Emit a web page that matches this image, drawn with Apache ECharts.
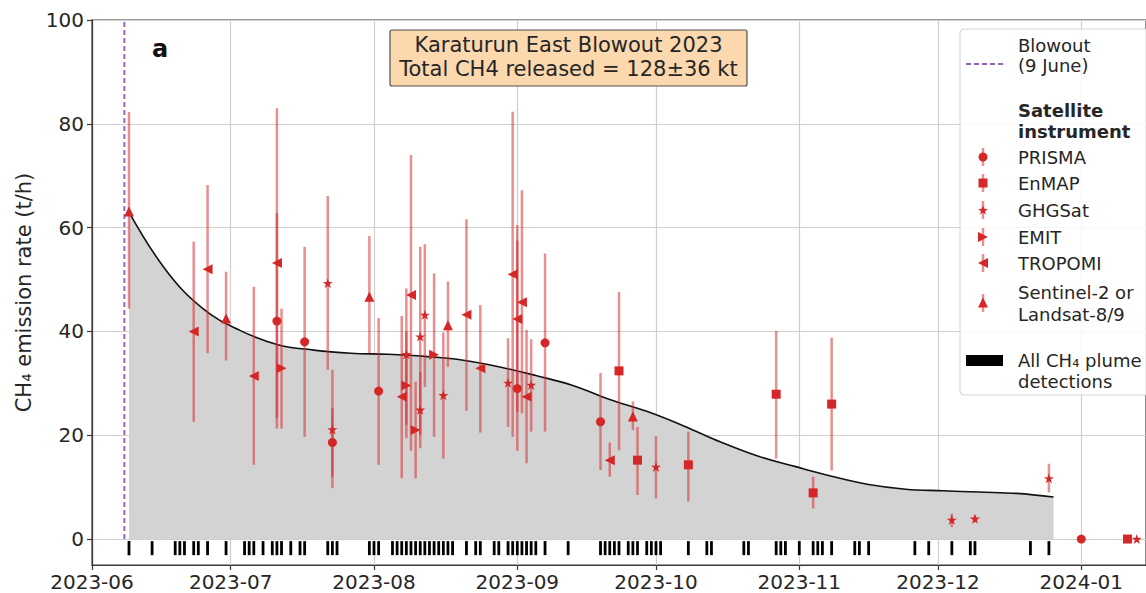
<!DOCTYPE html>
<html>
<head>
<meta charset="utf-8">
<title>Karaturun East Blowout 2023</title>
<script src="https://cdn.jsdelivr.net/npm/echarts@6/dist/echarts.min.js"></script>
<style>
  html, body { margin: 0; padding: 0; background: #ffffff; }
  #chart { width: 1146px; height: 593px; }
</style>
</head>
<body>
<div id="chart"></div>
<script>
// ---- Axis ticks ----
const monthTicks = ['2023-06-01', '2023-07-01', '2023-08-01', '2023-09-01', '2023-10-01', '2023-11-01', '2023-12-01', '2024-01-01'];
const yTicks = [0, 20, 40, 60, 80, 100];
const xRange = ['2023-06-01', '2024-01-15'];

// ---- Blowout date ----
const blowoutDate = '2023-06-08';

// ---- Smoothed emission-rate estimate (t/h) ----
const curveDates = ['2023-06-09', '2023-06-17', '2023-06-25', '2023-07-03', '2023-07-11', '2023-07-19', '2023-07-27',
  '2023-08-04', '2023-08-12', '2023-08-20', '2023-08-28', '2023-09-05', '2023-09-13', '2023-09-21', '2023-09-29',
  '2023-10-07', '2023-10-15', '2023-10-23', '2023-10-31', '2023-11-08', '2023-11-16', '2023-11-24', '2023-12-02',
  '2023-12-10', '2023-12-18', '2023-12-26'];
const curveValues = [63.0, 51.8, 44.4, 40.2, 37.5, 36.4, 35.8,
  35.6, 35.2, 34.5, 33.2, 31.5, 29.6, 26.9, 24.6,
  21.8, 18.7, 16.0, 14.0, 12.1, 10.5, 9.6, 9.3,
  9.05, 8.8, 8.1];

// ---- Individual satellite quantifications (t/h) ----
const obsDates = ['2023-06-09', '2023-06-23', '2023-06-26', '2023-06-30', '2023-07-06', '2023-07-11', '2023-07-11',
  '2023-07-12', '2023-07-17', '2023-07-22', '2023-07-23', '2023-07-23', '2023-07-31', '2023-08-02', '2023-08-07',
  '2023-08-08', '2023-08-08', '2023-08-09', '2023-08-10', '2023-08-11', '2023-08-11', '2023-08-12', '2023-08-14',
  '2023-08-16', '2023-08-17', '2023-08-21', '2023-08-24', '2023-08-30', '2023-08-31', '2023-09-01', '2023-09-01',
  '2023-09-02', '2023-09-03', '2023-09-04', '2023-09-07', '2023-09-19', '2023-09-21', '2023-09-23', '2023-09-26',
  '2023-09-27', '2023-10-01', '2023-10-08', '2023-10-27', '2023-11-04', '2023-11-08', '2023-12-04', '2023-12-09',
  '2023-12-25', '2024-01-01', '2024-01-11', '2024-01-13'];
const obsValues = [63.1, 40.0, 52.0, 42.5, 31.4, 53.2, 42.0,
  32.9, 38.0, 49.3, 21.1, 18.6, 46.7, 28.5, 27.4,
  35.6, 29.6, 47.0, 21.0, 39.0, 24.9, 43.2, 35.5,
  27.7, 41.2, 43.2, 32.9, 30.1, 51.0, 29.0, 42.4,
  45.6, 27.4, 29.7, 37.8, 22.6, 15.2, 32.4, 23.6,
  15.2, 13.9, 14.3, 27.9, 8.9, 26.0, 3.7, 3.9,
  11.7, 0, 0, 0];
const obsLow = [44.4, 22.6, 35.8, 34.4, 14.3, 23.3, 21.3,
  21.3, 19.7, 32.6, 12.0, 9.8, 35.8, 14.3, 11.7,
  22.0, 19.4, 17.0, 11.7, 20.0, 17.5, 29.3, 19.7,
  15.5, 33.2, 24.7, 20.5, 21.6, 19.7, 17.0, 24.5,
  24.2, 14.6, 20.7, 20.7, 13.3, 12.0, 17.1, 21.0,
  8.5, 7.8, 7.2, 15.5, 5.9, 13.2, 2.3, 3.2,
  9.0, 0, 0, 0];
const obsHigh = [82.3, 57.3, 68.2, 51.5, 48.6, 83.0, 62.8,
  44.4, 56.3, 66.1, 32.6, 25.2, 58.4, 42.6, 43.0,
  48.3, 40.0, 74.0, 30.3, 56.3, 32.2, 56.8, 51.2,
  39.8, 49.6, 61.6, 45.1, 38.7, 82.3, 60.5, 57.5,
  67.2, 40.3, 38.5, 55.0, 32.0, 18.6, 47.6, 26.5,
  21.6, 19.8, 20.7, 40.1, 12.0, 38.8, 4.9, 4.6,
  14.5, 0, 0, 0];
const obsInstrument = ['S2L', 'TROPOMI', 'TROPOMI', 'S2L', 'TROPOMI', 'TROPOMI', 'PRISMA',
  'EMIT', 'PRISMA', 'GHGSat', 'GHGSat', 'PRISMA', 'S2L', 'PRISMA', 'TROPOMI',
  'GHGSat', 'EMIT', 'TROPOMI', 'EMIT', 'GHGSat', 'GHGSat', 'GHGSat', 'EMIT',
  'GHGSat', 'S2L', 'TROPOMI', 'TROPOMI', 'GHGSat', 'TROPOMI', 'PRISMA', 'TROPOMI',
  'TROPOMI', 'TROPOMI', 'GHGSat', 'PRISMA', 'PRISMA', 'TROPOMI', 'EnMAP', 'S2L',
  'EnMAP', 'GHGSat', 'EnMAP', 'EnMAP', 'EnMAP', 'EnMAP', 'GHGSat', 'GHGSat',
  'GHGSat', 'PRISMA', 'EnMAP', 'GHGSat'];

// ---- Instruments (legend order) ----
const instrumentKeys = ['PRISMA', 'EnMAP', 'GHGSat', 'EMIT', 'TROPOMI', 'S2L'];
const instrumentLabels = ['PRISMA', 'EnMAP', 'GHGSat', 'EMIT', 'TROPOMI', 'Sentinel-2 or\nLandsat-8/9'];

// ---- Every day with a detected CH4 plume ----
const plumeDates = ['2023-06-09', '2023-06-14', '2023-06-19', '2023-06-20', '2023-06-21', '2023-06-23', '2023-06-24',
  '2023-06-26', '2023-06-30', '2023-07-04', '2023-07-05', '2023-07-06', '2023-07-08', '2023-07-10', '2023-07-11',
  '2023-07-12', '2023-07-14', '2023-07-16', '2023-07-17', '2023-07-22', '2023-07-23', '2023-07-24', '2023-07-31',
  '2023-08-01', '2023-08-02', '2023-08-05', '2023-08-06', '2023-08-07', '2023-08-08', '2023-08-09', '2023-08-10',
  '2023-08-11', '2023-08-12', '2023-08-13', '2023-08-14', '2023-08-15', '2023-08-16', '2023-08-17', '2023-08-18',
  '2023-08-21', '2023-08-23', '2023-08-24', '2023-08-27', '2023-08-28', '2023-08-30', '2023-08-31', '2023-09-01',
  '2023-09-02', '2023-09-03', '2023-09-04', '2023-09-05', '2023-09-07', '2023-09-12', '2023-09-19', '2023-09-20',
  '2023-09-21', '2023-09-22', '2023-09-23', '2023-09-25', '2023-09-26', '2023-09-27', '2023-09-29', '2023-09-30',
  '2023-10-01', '2023-10-02', '2023-10-08', '2023-10-12', '2023-10-13', '2023-10-20', '2023-10-21', '2023-10-27',
  '2023-10-28', '2023-10-29', '2023-11-01', '2023-11-04', '2023-11-05', '2023-11-06', '2023-11-08', '2023-11-13',
  '2023-11-14', '2023-11-16', '2023-11-26', '2023-11-29', '2023-12-04', '2023-12-08', '2023-12-09', '2023-12-21',
  '2023-12-25'];

// ---- Styling ----
const FONT = 'DejaVu Sans';
const TEXT = '#262626';
const RED = '#d62728';
const BAR = 'rgba(214,39,40,0.52)';
const GRID = '#cfcfcf';
const SPINE = '#3a3a3a';
const PURPLE = '#9467bd';

const STAR = 'path://M50,0 L61.2,34.5 L97.6,34.5 L68.2,55.9 L79.4,90.5 L50,69.1 L20.6,90.5 L31.8,55.9 L2.4,34.5 L38.8,34.5 Z';
const symbols = {
  PRISMA: { symbol: 'circle', size: 9 },
  EnMAP: { symbol: 'rect', size: 9 },
  GHGSat: { symbol: STAR, size: 10 },
  EMIT: { symbol: 'path://M0,0 L100,50 L0,100 Z', size: 10 },
  TROPOMI: { symbol: 'path://M100,0 L0,50 L100,100 Z', size: 10 },
  S2L: { symbol: 'triangle', size: 10 }
};

// rug of plume detections sits just below zero
const RUG_TOP = -0.4;
const RUG_BOTTOM = -3.1;

// dates are handled as UTC day timestamps on a numeric axis
const ts = s => Date.parse(s + 'T00:00:00Z');
const pad = n => (n < 10 ? '0' + n : '' + n);

const series = [];

// shaded emission estimate
series.push({
  type: 'line',
  data: curveDates.map((d, i) => [ts(d), curveValues[i]]),
  showSymbol: false,
  smooth: 0.4,
  lineStyle: { color: '#111', width: 1.6 },
  areaStyle: { color: '#d3d3d3', opacity: 1 },
  z: 1,
  silent: true
});

// blowout marker
series.push({
  type: 'line',
  data: [[ts(blowoutDate), 0], [ts(blowoutDate), 100]],
  showSymbol: false,
  lineStyle: { color: PURPLE, width: 2, type: [5, 3] },
  z: 2,
  silent: true
});

// error bars
series.push({
  type: 'custom',
  data: obsDates.map((d, i) => [ts(d), obsLow[i], obsHigh[i]]),
  encode: { x: 0, y: [1, 2] },
  z: 3,
  silent: true,
  renderItem: (params, api) => {
    const a = api.coord([api.value(0), api.value(1)]);
    const b = api.coord([api.value(0), api.value(2)]);
    return {
      type: 'line',
      shape: { x1: a[0], y1: a[1], x2: b[0], y2: b[1] },
      style: { stroke: BAR, lineWidth: 2.5 }
    };
  }
});

// markers per instrument
instrumentKeys.forEach((key, k) => {
  const pts = [];
  obsDates.forEach((d, i) => { if (obsInstrument[i] === key) pts.push([ts(d), obsValues[i]]); });
  series.push({
    type: 'scatter',
    name: instrumentLabels[k],
    data: pts,
    symbol: symbols[key].symbol,
    symbolSize: symbols[key].size,
    itemStyle: { color: RED, opacity: 1 },
    z: 4,
    silent: true
  });
});

// plume detection rug
series.push({
  type: 'custom',
  data: plumeDates.map(d => [ts(d)]),
  encode: { x: 0 },
  z: 5,
  silent: true,
  renderItem: (params, api) => {
    const t = api.coord([api.value(0), RUG_TOP]);
    const b = api.coord([api.value(0), RUG_BOTTOM]);
    return {
      type: 'rect',
      shape: { x: t[0] - 1.4, y: t[1], width: 2.8, height: b[1] - t[1] },
      style: { fill: '#000' }
    };
  }
});

// ---- Legend, title box and panel letter ----
const LX = 983;      // marker column
const TX = 1018;     // text column
const legendFont = '18px "DejaVu Sans"';
const graphics = [];

graphics.push({
  type: 'rect', z: 50,
  shape: { x: 960, y: 29, width: 200, height: 366, r: 4 },
  style: { fill: 'rgba(255,255,255,0.82)', stroke: '#d4d4d4', lineWidth: 1 }
});
graphics.push({
  type: 'line', z: 51,
  shape: { x1: 966, y1: 64, x2: 1003, y2: 64 },
  style: { stroke: PURPLE, lineWidth: 2, lineDash: [5, 3] }
});
function legendText(str, y, bold) {
  graphics.push({
    type: 'text', z: 51, x: TX, y: y,
    style: {
      text: str, fill: TEXT, font: (bold ? 'bold ' : '') + legendFont,
      textAlign: 'left', textVerticalAlign: 'middle'
    }
  });
}
legendText('Blowout', 45);
legendText('(9 June)', 65);
legendText('Satellite', 110, true);
legendText('instrument', 131, true);

function starPoints(cx, cy, R, r) {
  const pts = [];
  for (let i = 0; i < 10; i++) {
    const ang = -Math.PI / 2 + i * Math.PI / 5;
    const rad = i % 2 === 0 ? R : r;
    pts.push([cx + rad * Math.cos(ang), cy + rad * Math.sin(ang)]);
  }
  return pts;
}
function legendMarker(key, cy) {
  graphics.push({
    type: 'line', z: 51,
    shape: { x1: LX, y1: cy - 9, x2: LX, y2: cy + 9 },
    style: { stroke: BAR, lineWidth: 2.5 }
  });
  let el;
  if (key === 'PRISMA') el = { type: 'circle', shape: { cx: LX, cy: cy, r: 4.5 } };
  else if (key === 'EnMAP') el = { type: 'rect', shape: { x: LX - 4.5, y: cy - 4.5, width: 9, height: 9 } };
  else if (key === 'GHGSat') el = { type: 'polygon', shape: { points: starPoints(LX, cy + 0.5, 5, 2.1) } };
  else if (key === 'EMIT') el = { type: 'polygon', shape: { points: [[LX - 5, cy - 5], [LX + 5, cy], [LX - 5, cy + 5]] } };
  else if (key === 'TROPOMI') el = { type: 'polygon', shape: { points: [[LX + 5, cy - 5], [LX - 5, cy], [LX + 5, cy + 5]] } };
  else el = { type: 'polygon', shape: { points: [[LX, cy - 5.5], [LX + 5, cy + 4.5], [LX - 5, cy + 4.5]] } };
  el.z = 52;
  el.style = { fill: RED };
  graphics.push(el);
}
const rowY = [157, 183, 210, 237, 263, 303];
instrumentKeys.forEach((key, k) => {
  legendMarker(key, rowY[k]);
  if (key === 'S2L') {
    legendText('Sentinel-2 or', 292);
    legendText('Landsat-8/9', 314);
  } else {
    legendText(instrumentLabels[k], rowY[k]);
  }
});
graphics.push({
  type: 'rect', z: 51,
  shape: { x: 966, y: 355, width: 37, height: 11 },
  style: { fill: '#000' }
});
legendText('All CH\u2084 plume', 360);
legendText('detections', 381);

// title box
graphics.push({
  type: 'rect', z: 50,
  shape: { x: 390, y: 30, width: 357, height: 56, r: 2 },
  style: { fill: '#fcd8ae', stroke: '#505050', lineWidth: 1.2 }
});
graphics.push({
  type: 'text', z: 51, x: 568.5, y: 45,
  style: { text: 'Karaturun East Blowout 2023', fill: TEXT, font: '21px "DejaVu Sans"', textAlign: 'center', textVerticalAlign: 'middle' }
});
graphics.push({
  type: 'text', z: 51, x: 568.5, y: 69,
  style: { text: 'Total CH4 released = 128\u00b136 kt', fill: TEXT, font: '21px "DejaVu Sans"', textAlign: 'center', textVerticalAlign: 'middle' }
});
// panel letter
graphics.push({
  type: 'text', z: 51, x: 152, y: 49,
  style: { text: 'a', fill: '#111', font: 'bold 24px "DejaVu Sans"', textAlign: 'left', textVerticalAlign: 'middle' }
});

const monthTickValues = monthTicks.map(ts);

const option = {
  animation: false,
  backgroundColor: '#ffffff',
  textStyle: { fontFamily: FONT },
  grid: {
    left: 92, right: -2, top: 20, bottom: 28,
    show: true, borderColor: SPINE, borderWidth: 1.2, backgroundColor: 'transparent'
  },
  xAxis: {
    type: 'value',
    min: ts(xRange[0]),
    max: ts(xRange[1]),
    axisLine: { show: true, onZero: false, lineStyle: { color: SPINE, width: 1.2 } },
    axisTick: { show: true, length: 5, lineStyle: { color: SPINE, width: 1.2 }, customValues: monthTickValues },
    axisLabel: {
      customValues: monthTickValues,
      fontSize: 20, color: TEXT, fontFamily: FONT, margin: 7,
      formatter: v => { const d = new Date(v); return d.getUTCFullYear() + '-' + pad(d.getUTCMonth() + 1); }
    },
    splitLine: { show: true, lineStyle: { color: GRID, width: 1.2 } }
  },
  yAxis: {
    type: 'value',
    min: -5,
    max: 100,
    name: 'CH\u2084 emission rate (t/h)',
    nameLocation: 'middle',
    nameGap: 57,
    nameTextStyle: { fontSize: 21, color: TEXT, fontFamily: FONT },
    axisLine: { show: true, lineStyle: { color: SPINE, width: 1.2 } },
    axisTick: { show: true, length: 5, lineStyle: { color: SPINE, width: 1.2 }, customValues: yTicks },
    axisLabel: { customValues: yTicks, fontSize: 20, color: TEXT, fontFamily: FONT, margin: 8 },
    splitLine: { show: true, lineStyle: { color: GRID, width: 1.2 } }
  },
  series: series,
  graphic: graphics
};

const chart = echarts.init(document.getElementById('chart'), null, { renderer: 'svg', width: 1146, height: 593 });
chart.setOption(option);
</script>
</body>
</html>
